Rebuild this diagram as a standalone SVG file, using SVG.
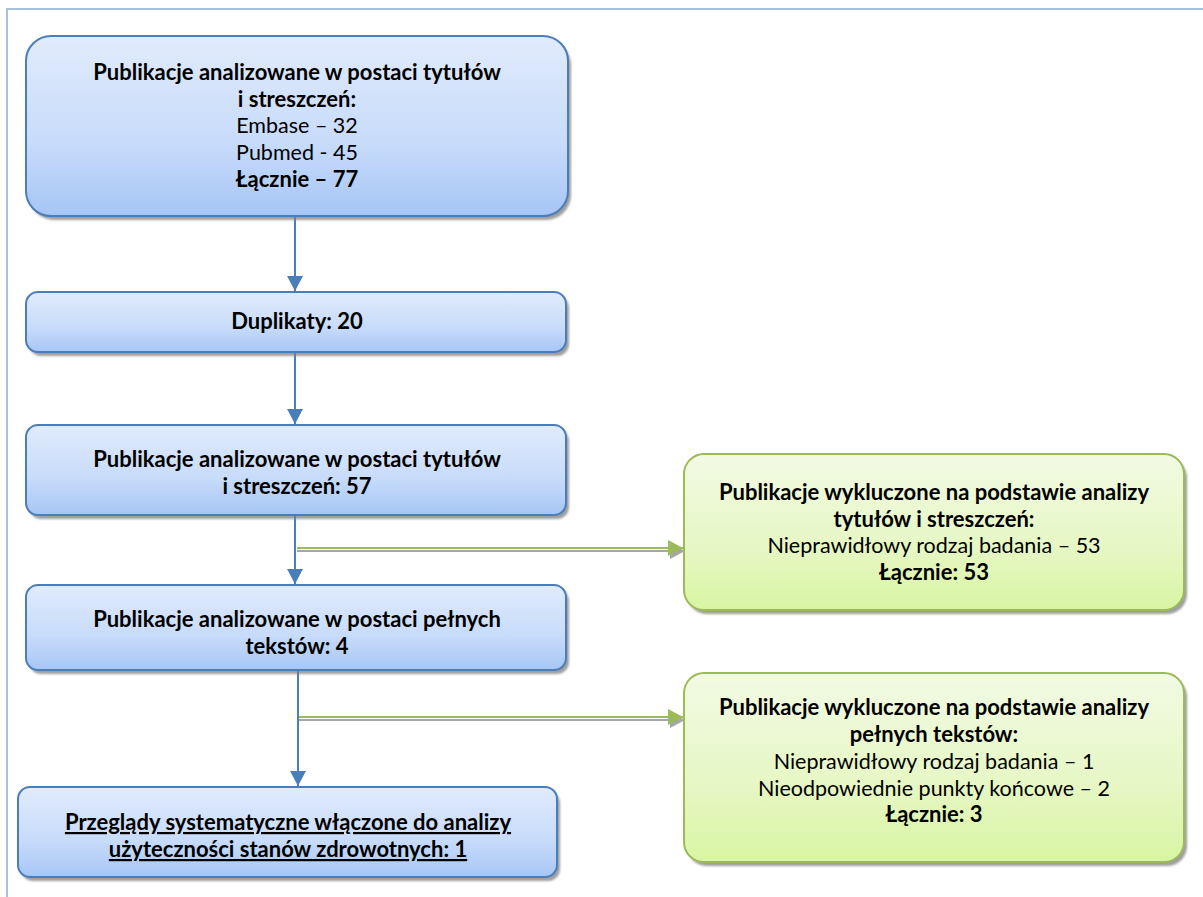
<svg xmlns="http://www.w3.org/2000/svg" width="1203" height="897" viewBox="0 0 1203 897">
<style>
.t{font-family:Lato,"Liberation Sans",sans-serif;font-size:21.5px;fill:#000;text-anchor:middle}
.b{font-weight:bold;font-size:22px}
.blue{fill:url(#gb);stroke:#4a7ebb;stroke-width:2}
.green{fill:url(#gg);stroke:#9bbb59;stroke-width:2}
.sh{fill:#7f7f7f;opacity:0.75;filter:url(#bl)}
.conn{stroke:#4a7ebb;stroke-width:2;fill:none}
.gl{stroke:#9bbb59;stroke-width:2;fill:none}
.gs{stroke:#a6a6a6;stroke-width:2;fill:none}
</style>
<defs>
<linearGradient id="gb" x1="0" y1="0" x2="0" y2="1">
<stop offset="0" stop-color="#e1ebfc"/>
<stop offset="0.6" stop-color="#c7dbfa"/>
<stop offset="1" stop-color="#a6c6f6"/>
</linearGradient>
<linearGradient id="gg" x1="0" y1="0" x2="0" y2="1">
<stop offset="0" stop-color="#f2fae4"/>
<stop offset="0.6" stop-color="#e6f7c4"/>
<stop offset="1" stop-color="#d8f5a2"/>
</linearGradient>
<filter id="bl" x="-5%" y="-5%" width="110%" height="110%"><feGaussianBlur stdDeviation="1.2"/></filter>
<marker id="ab" markerWidth="16" markerHeight="16" refX="8" refY="15" orient="0" markerUnits="userSpaceOnUse" viewBox="0 0 16 16"><path d="M0,0 L16,0 L8,15 Z" fill="#4a7ebb"/></marker>
<marker id="ag" markerWidth="16" markerHeight="16" refX="15" refY="8" orient="0" markerUnits="userSpaceOnUse" viewBox="0 0 16 16"><path d="M0,0 L15,8 L0,16 Z" fill="#9bbb59"/></marker>
<marker id="as" markerWidth="16" markerHeight="16" refX="15" refY="8" orient="0" markerUnits="userSpaceOnUse" viewBox="0 0 16 16"><path d="M0,0 L15,8 L0,16 Z" fill="#a6a6a6"/></marker>
</defs>
<rect width="1203" height="897" fill="#fff"/>
<path d="M7,897 V9 H1203" fill="none" stroke="#a7c0de" stroke-width="2"/>

<g id="connectors">
<line class="conn" x1="295" y1="217" x2="295" y2="291" marker-end="url(#ab)"/>
<line class="conn" x1="295" y1="353" x2="295" y2="424" marker-end="url(#ab)"/>
<line class="conn" x1="295" y1="516" x2="295" y2="584" marker-end="url(#ab)"/>
<line class="conn" x1="298" y1="671" x2="298" y2="786" marker-end="url(#ab)"/>
<line class="gs" x1="297" y1="551" x2="685" y2="551" marker-end="url(#as)"/>
<line class="gl" x1="297" y1="548" x2="683" y2="548" marker-end="url(#ag)"/>
<line class="gs" x1="299" y1="720" x2="685" y2="720" marker-end="url(#as)"/>
<line class="gl" x1="299" y1="717" x2="683" y2="717" marker-end="url(#ag)"/>
</g>

<g id="n1">
<rect class="sh" x="29" y="40" width="542" height="180" rx="25"/>
<rect class="blue" x="26" y="36" width="542" height="180" rx="25"/>
<text class="t b" x="297" y="80">Publikacje analizowane w postaci tytułów</text>
<text class="t b" x="297" y="107">i streszczeń:</text>
<text class="t" x="297" y="133">Embase – 32</text>
<text class="t" x="297" y="160">Pubmed - 45</text>
<text class="t b" x="297" y="187">Łącznie – 77</text>
</g>

<g id="n2">
<rect class="sh" x="29" y="296" width="540" height="60" rx="12"/>
<rect class="blue" x="26" y="292" width="540" height="60" rx="12"/>
<text class="t b" x="297" y="329">Duplikaty: 20</text>
</g>

<g id="n3">
<rect class="sh" x="29" y="429" width="540" height="90" rx="12"/>
<rect class="blue" x="26" y="425" width="540" height="90" rx="12"/>
<text class="t b" x="297" y="467">Publikacje analizowane w postaci tytułów</text>
<text class="t b" x="297" y="494">i streszczeń: 57</text>
</g>

<g id="n4">
<rect class="sh" x="29" y="589" width="540" height="85" rx="12"/>
<rect class="blue" x="26" y="585" width="540" height="85" rx="12"/>
<text class="t b" x="297" y="627">Publikacje analizowane w postaci pełnych</text>
<text class="t b" x="297" y="654">tekstów: 4</text>
</g>

<g id="n5">
<rect class="sh" x="21" y="791" width="539" height="90" rx="12"/>
<rect class="blue" x="18" y="787" width="539" height="90" rx="12"/>
<text class="t b" x="288" y="830" text-decoration="underline">Przeglądy systematyczne włączone do analizy</text>
<text class="t b" x="288" y="857" text-decoration="underline">użyteczności stanów zdrowotnych: 1</text>
</g>

<g id="g1">
<rect class="sh" x="687" y="458" width="500" height="156" rx="20"/>
<rect class="green" x="684" y="454" width="500" height="156" rx="20"/>
<text class="t b" x="934" y="500">Publikacje wykluczone na podstawie analizy</text>
<text class="t b" x="934" y="527">tytułów i streszczeń:</text>
<text class="t" x="934" y="553">Nieprawidłowy rodzaj badania – 53</text>
<text class="t b" x="934" y="580">Łącznie: 53</text>
</g>

<g id="g2">
<rect class="sh" x="687" y="677" width="500" height="189" rx="20"/>
<rect class="green" x="684" y="673" width="500" height="189" rx="20"/>
<text class="t b" x="934" y="715">Publikacje wykluczone na podstawie analizy</text>
<text class="t b" x="934" y="742">pełnych tekstów:</text>
<text class="t" x="934" y="769">Nieprawidłowy rodzaj badania – 1</text>
<text class="t" x="934" y="796">Nieodpowiednie punkty końcowe – 2</text>
<text class="t b" x="934" y="822">Łącznie: 3</text>
</g>
</svg>
